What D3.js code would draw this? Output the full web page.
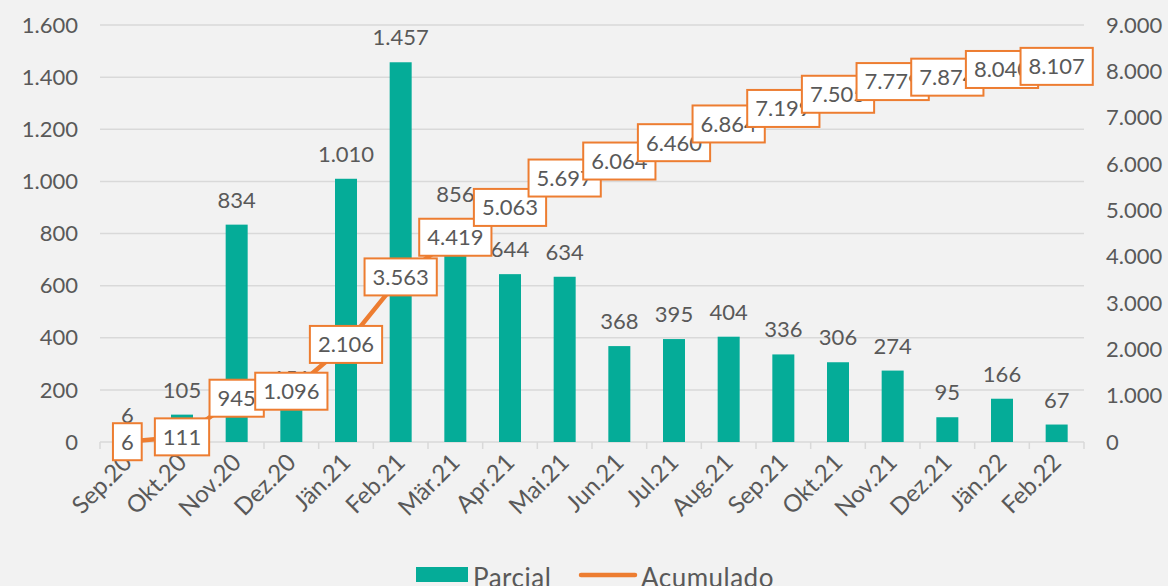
<!DOCTYPE html>
<html>
<head>
<meta charset="utf-8">
<script src="https://cdn.jsdelivr.net/npm/d3@7"></script>
<style>
  body { margin: 0; background: #f2f2f2; }
  svg text { font-family: Lato, "DejaVu Sans", sans-serif; fill: #595959; }
</style>
</head>
<body>
<div id="chart"></div>
<script>
var months = ["Sep.20","Okt.20","Nov.20","Dez.20","Jän.21","Feb.21","Mär.21","Apr.21","Mai.21","Jun.21","Jul.21","Aug.21","Sep.21","Okt.21","Nov.21","Dez.21","Jän.22","Feb.22"]
var parcial = [6,105,834,151,1010,1457,856,644,634,368,395,404,336,306,274,95,166,67]
var acumulado = [6,111,945,1096,2106,3563,4419,5063,5697,6064,6460,6864,7199,7505,7779,7874,8040,8107]
var leftTicks = [0,200,400,600,800,1000,1200,1400,1600]
var rightTicks = [0,1000,2000,3000,4000,5000,6000,7000,8000,9000]

var chartWidth = 1168
var chartHeight = 586
var plotLeft = 100, plotRight = 1084, plotTop = 25, plotBottom = 442

var de = d3.formatLocale({decimal: ",", thousands: ".", grouping: [3], currency: ["", "€"]})
var fmt = de.format(",d")

var svg = d3.select("#chart")
    .append("svg")
        .attr("width", chartWidth)
        .attr("height", chartHeight)

svg.append("rect").attr("width", chartWidth).attr("height", chartHeight).attr("fill", "#f2f2f2")

var x = d3.scaleBand().domain(months).range([plotLeft, plotRight])
var yL = d3.scaleLinear().domain([0, 1600]).range([plotBottom, plotTop])
var yR = d3.scaleLinear().domain([0, 9000]).range([plotBottom, plotTop])

// grid lines
svg.append("g").selectAll("line")
    .data(leftTicks)
    .enter().append("line")
        .attr("x1", plotLeft).attr("x2", plotRight)
        .attr("y1", d => yL(d)).attr("y2", d => yL(d))
        .attr("stroke", "#d9d9d9").attr("stroke-width", 1.5)

// left axis labels
svg.append("g").selectAll("text")
    .data(leftTicks)
    .enter().append("text")
        .attr("x", 78).attr("y", d => yL(d))
        .attr("dy", "0.35em").attr("text-anchor", "end")
        .attr("font-size", 22)
        .text(d => fmt(d))

// right axis labels
svg.append("g").selectAll("text")
    .data(rightTicks)
    .enter().append("text")
        .attr("x", 1106).attr("y", d => yR(d))
        .attr("dy", "0.35em").attr("text-anchor", "start")
        .attr("font-size", 22)
        .text(d => fmt(d))

// x ticks
var bounds = months.map(m => x(m)).concat([plotRight])
svg.append("g").selectAll("line")
    .data(bounds)
    .enter().append("line")
        .attr("x1", d => d).attr("x2", d => d)
        .attr("y1", plotBottom).attr("y2", plotBottom + 7)
        .attr("stroke", "#d9d9d9").attr("stroke-width", 1.5)

// x labels
svg.append("g").selectAll("text")
    .data(months)
    .enter().append("text")
        .attr("transform", d => "translate(" + (x(d) + x.bandwidth() / 2 + 6) + "," + (plotBottom + 22) + ") rotate(-45)")
        .attr("text-anchor", "end")
        .attr("font-size", 24)
        .text(d => d)

// bars
var barW = 22
svg.append("g").selectAll("rect")
    .data(parcial)
    .enter().append("rect")
        .attr("x", (d, i) => x(months[i]) + x.bandwidth() / 2 - barW / 2)
        .attr("y", d => yL(d))
        .attr("width", barW)
        .attr("height", d => plotBottom - yL(d))
        .attr("fill", "#05ac98")

// bar labels
svg.append("g").selectAll("text")
    .data(parcial)
    .enter().append("text")
        .attr("x", (d, i) => x(months[i]) + x.bandwidth() / 2)
        .attr("y", d => yL(d) - 17)
        .attr("text-anchor", "middle")
        .attr("font-size", 22)
        .text(d => fmt(d))

// line
var line = d3.line()
    .x((d, i) => x(months[i]) + x.bandwidth() / 2)
    .y(d => yR(d))
svg.append("path")
    .datum(acumulado)
    .attr("d", line)
    .attr("fill", "none")
    .attr("stroke", "#ed7d31")
    .attr("stroke-width", 4.5)
    .attr("stroke-linejoin", "round")

// line labels (boxes)
var boxes = svg.append("g").selectAll("g")
    .data(acumulado)
    .enter().append("g")
        .attr("transform", (d, i) => "translate(" + (x(months[i]) + x.bandwidth() / 2) + "," + yR(d) + ")")
boxes.each(function(d) {
    var g = d3.select(this)
    var r = g.append("rect")
    var t = g.append("text")
        .attr("text-anchor", "middle")
        .attr("dy", "0.36em")
        .attr("font-size", 22)
        .text(fmt(d))
    var w = t.node().getComputedTextLength() + 16
    r.attr("x", -w / 2).attr("y", -18.5)
        .attr("width", w).attr("height", 37)
        .attr("fill", "#ffffff")
        .attr("stroke", "#ed7d31").attr("stroke-width", 2)
})

// legend
var legend = svg.append("g")
legend.append("rect")
    .attr("x", 416).attr("y", 567).attr("width", 52).attr("height", 15)
    .attr("fill", "#05ac98")
legend.append("text")
    .attr("x", 473).attr("y", 587).attr("font-size", 26).attr("letter-spacing", 0.5)
    .text("Parcial")
legend.append("line")
    .attr("x1", 581).attr("x2", 635).attr("y1", 575).attr("y2", 575)
    .attr("stroke", "#ed7d31").attr("stroke-width", 4.5).attr("stroke-linecap", "round")
legend.append("text")
    .attr("x", 641).attr("y", 587).attr("font-size", 26).attr("letter-spacing", 0.5)
    .text("Acumulado")
</script>
</body>
</html>
